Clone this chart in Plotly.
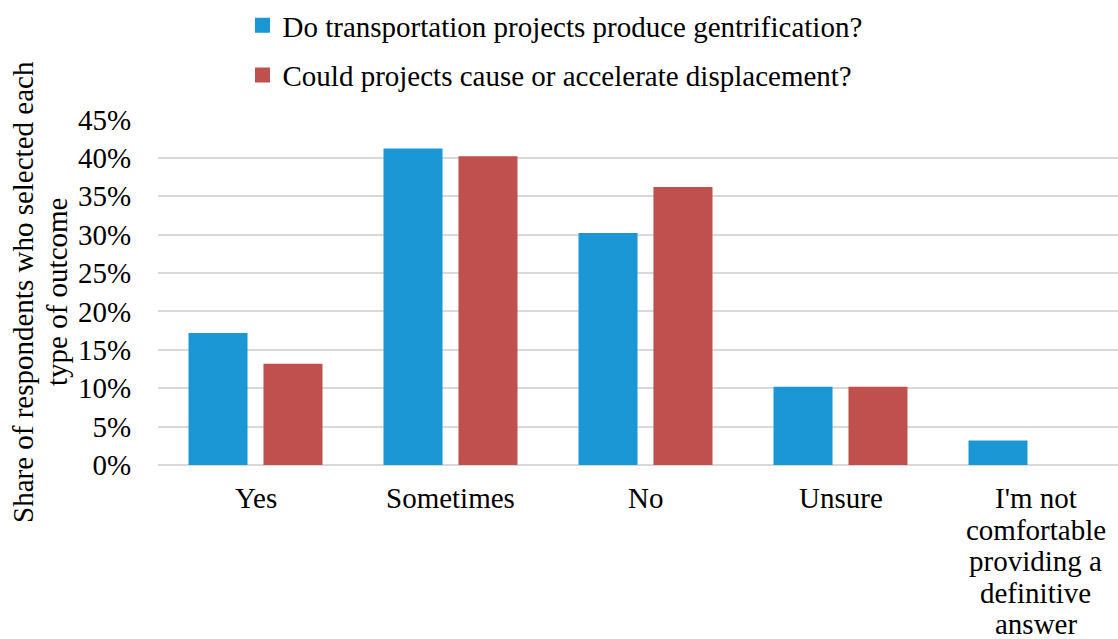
import plotly.graph_objects as go

# Survey answers and the share of respondents choosing each one (%)
categories = ["Yes", "Sometimes", "No", "Unsure",
              "I'm not<br>comfortable<br>providing a<br>definitive<br>answer"]
gentrification = [17, 41, 30, 10, 3]
displacement = [13, 40, 36, 10, 0]
series_names = ["Do transportation projects produce gentrification?",
                "Could projects cause or accelerate displacement?"]
y_ticks = [0, 5, 10, 15, 20, 25, 30, 35, 40, 45]
y_tick_labels = [f"{v}%" for v in y_ticks]
y_title_lines = ["Share of respondents who selected each", "type of outcome"]

FONT = "Liberation Serif"
FS = 29
BLUE = "#1a97d4"
RED = "#c0504d"

x_idx = list(range(len(categories)))


def edge_widths(values):
    # same-colour outline, skipped on empty bars so they stay invisible
    return [3 if v > 0 else 0 for v in values]


fig = go.Figure()
fig.add_trace(go.Bar(x=x_idx, y=gentrification, name=series_names[0],
                     marker=dict(color=BLUE,
                                 line=dict(width=edge_widths(gentrification),
                                           color=BLUE)),
                     legendgroup="a"))
fig.add_trace(go.Bar(x=x_idx, y=displacement, name=series_names[1],
                     marker=dict(color=RED,
                                 line=dict(width=edge_widths(displacement),
                                           color=RED)),
                     legendgroup="b"))

# Category labels below the axis, one annotation per line for tight spacing
annotations = []
LINE = 31.5
for i, label in enumerate(categories):
    for j, line in enumerate(label.split("<br>")):
        annotations.append(dict(
            x=i, xref="x", y=0, yref="paper", text=line, showarrow=False,
            xanchor="center", yanchor="middle", yshift=-33 - j * LINE,
            font=dict(family=FONT, size=FS, color="black")))

# Rotated y-axis title in two lines
for j, line in enumerate(y_title_lines):
    annotations.append(dict(
        x=0, xref="paper", y=0.5, yref="paper", text=line, showarrow=False,
        textangle=-90, xanchor="center", yanchor="middle",
        xshift=-135 + j * 34,
        font=dict(family=FONT, size=FS, color="black")))

fig.update_layout(
    width=1118, height=639,
    margin=dict(l=158, r=0, t=119, b=174, pad=0),
    paper_bgcolor="white", plot_bgcolor="white",
    barmode="group", bargap=0.231, bargroupgap=0.253,
    font=dict(family=FONT, size=FS, color="black"),
    showlegend=True,
    legend=dict(orientation="v", x=0.088, xanchor="left", y=1.0025,
                yref="container", yanchor="top",
                traceorder="grouped", tracegroupgap=9,
                font=dict(family=FONT, size=FS, color="black"),
                bgcolor="rgba(0,0,0,0)", itemclick=False),
    annotations=annotations,
    xaxis=dict(range=[-0.5, 4.5 - 15 / 195], showticklabels=False,
               showgrid=False, zeroline=False, showline=False, ticks=""),
    yaxis=dict(range=[0, 45.05], tickvals=y_ticks, ticktext=y_tick_labels,
               showgrid=True, gridcolor="#d9d9d9", gridwidth=2,
               zeroline=True, zerolinecolor="#d9d9d9", zerolinewidth=2,
               showline=False, ticks="outside", ticklen=0,
               ticklabelstandoff=20,
               tickfont=dict(family=FONT, size=FS, color="black")),
)

fig.write_html("out.html")
